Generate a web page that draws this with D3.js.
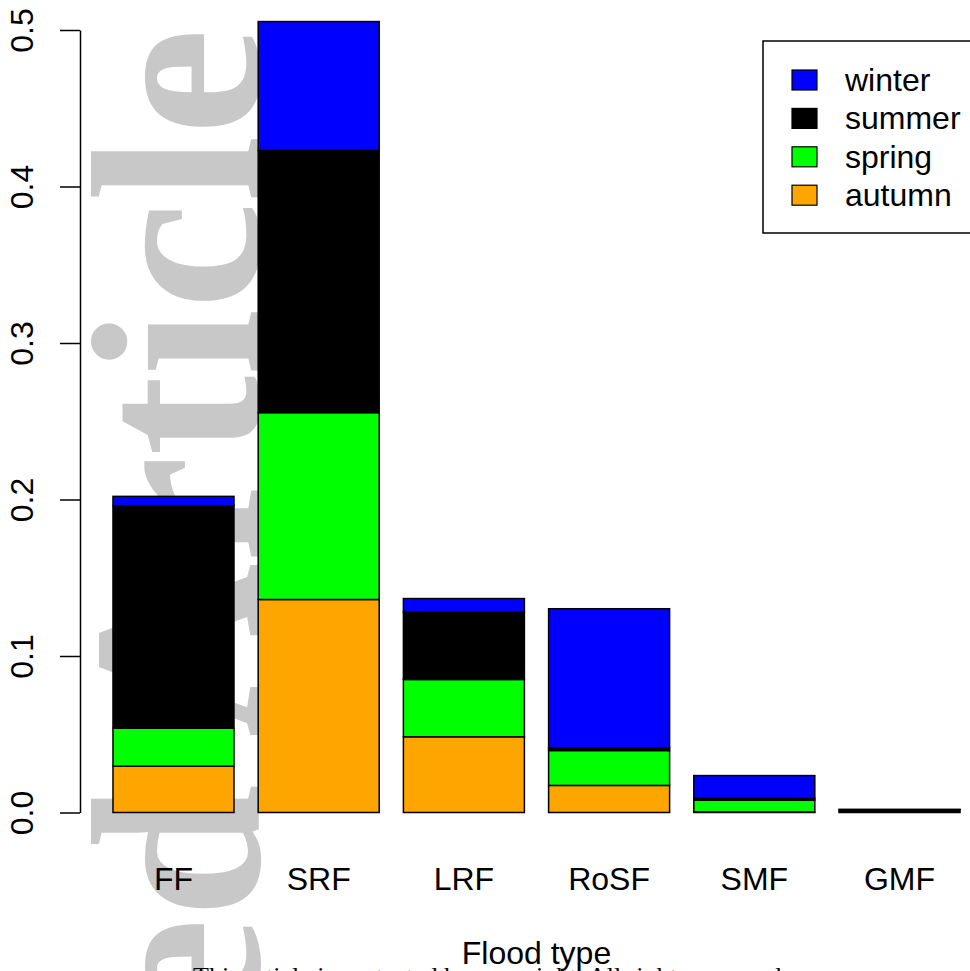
<!DOCTYPE html>
<html>
<head>
<meta charset="utf-8">
<script src="https://cdn.jsdelivr.net/npm/d3@7"></script>
<style>
  body { margin: 0; background: #fff; }
  svg { display: block; }
</style>
</head>
<body>
<div id="chart"></div>
<script>
var categories = ["FF", "SRF", "LRF", "RoSF", "SMF", "GMF"];
// stacked bottom to top
var seasons = ["autumn", "spring", "summer", "winter"];
var autumn = [0.0296, 0.1361, 0.0484, 0.0173, 0.0004, 0.0000];
var spring = [0.0243, 0.1194, 0.0366, 0.0223, 0.0075, 0.0000];
var summer = [0.1421, 0.1675, 0.0432, 0.0017, 0.0012, 0.0018];
var winter = [0.0060, 0.0824, 0.0085, 0.0889, 0.0145, 0.0002];
var yTicks = [0, 0.1, 0.2, 0.3, 0.4, 0.5];
var legendOrder = ["winter", "summer", "spring", "autumn"];

var colors = {winter: "#0000ff", summer: "#000000", spring: "#00ff00", autumn: "#ffa500"};
var values = {autumn: autumn, spring: spring, summer: summer, winter: winter};

var width = 970, height = 971;
var sans = "'Liberation Sans', Arial, sans-serif";
var serif = "'Liberation Serif', 'Times New Roman', serif";

var svg = d3.select("#chart").append("svg").attr("width", width).attr("height", height);

// barplot coordinates: bars of width 1, space 0.2, R's 4% axis extension
var x = d3.scaleLinear().domain([-0.08, 7.48]).range([79.1, 993.9]);
var y = d3.scaleLinear().domain([0, 0.5]).range([812.5, 30]);

// watermark behind everything
svg.append("text")
  .attr("transform", "translate(259,28) rotate(-90)")
  .attr("text-anchor", "end")
  .style("font-family", serif)
  .style("font-weight", "bold")
  .style("font-size", "241px")
  .style("fill", "#c8c8c8")
  .text("Accepted Article");

// stacked data
var rows = categories.map(function(c, i){
  var r = {cat: c, i: i};
  seasons.forEach(function(s){ r[s] = values[s][i]; });
  return r;
});
var stacked = d3.stack().keys(seasons)(rows);

var layers = svg.append("g").selectAll("g").data(stacked).enter().append("g")
  .style("fill", function(d){ return colors[d.key]; });

layers.selectAll("rect").data(function(d){ return d; }).enter().append("rect")
  .attr("x", function(d){ return x(0.2 + d.data.i * 1.2); })
  .attr("width", function(d){ return x(1.2 + d.data.i * 1.2) - x(0.2 + d.data.i * 1.2); })
  .attr("y", function(d){ return y(d[1]); })
  .attr("height", function(d){ return y(d[0]) - y(d[1]); })
  .style("stroke", "#000")
  .style("stroke-width", 1.5);

// category names
svg.append("g").selectAll("text").data(categories).enter().append("text")
  .attr("x", function(d, i){ return x(0.7 + i * 1.2); })
  .attr("y", 890)
  .attr("text-anchor", "middle")
  .style("font-family", sans)
  .style("font-size", "32px")
  .text(function(d){ return d; });

// y axis
var yAxis = svg.append("g")
  .attr("transform", "translate(80,0)")
  .call(d3.axisLeft(y).tickValues(yTicks).tickFormat(d3.format(".1f")).tickSize(20).tickSizeOuter(0));
yAxis.select(".domain").style("stroke", "#000").style("stroke-width", 1.5);
yAxis.selectAll(".tick line").style("stroke", "#000").style("stroke-width", 1.5);
yAxis.selectAll(".tick text")
  .attr("transform", "rotate(-90)")
  .attr("x", 0)
  .attr("y", -47)
  .attr("dy", 0)
  .attr("text-anchor", "middle")
  .style("font-family", sans)
  .style("font-size", "32px")
  .style("fill", "#000");

// axis title
svg.append("text")
  .attr("x", x(3.7))
  .attr("y", 964)
  .attr("text-anchor", "middle")
  .style("font-family", sans)
  .style("font-size", "32px")
  .text("Flood type");

// legend
var legend = svg.append("g");
legend.append("rect")
  .attr("x", 763).attr("y", 41).attr("width", 240).attr("height", 192)
  .style("fill", "#fff").style("stroke", "#000").style("stroke-width", 1.5);
var item = legend.selectAll("g.item").data(legendOrder).enter().append("g")
  .attr("class", "item")
  .attr("transform", function(d, i){ return "translate(0," + (80 + i * 38.4) + ")"; });
item.append("rect")
  .attr("x", 792).attr("y", -10).attr("width", 25).attr("height", 20)
  .style("fill", function(d){ return colors[d]; })
  .style("stroke", "#000").style("stroke-width", 1.2);
item.append("text")
  .attr("x", 845).attr("y", 11)
  .style("font-family", sans)
  .style("font-size", "32px")
  .text(function(d){ return d; });

// copyright line, cut off at bottom edge
svg.append("text")
  .attr("x", 193)
  .attr("y", 985)
  .style("font-family", serif)
  .style("font-size", "26px")
  .text("This article is protected by copyright. All rights reserved.");
</script>
</body>
</html>
